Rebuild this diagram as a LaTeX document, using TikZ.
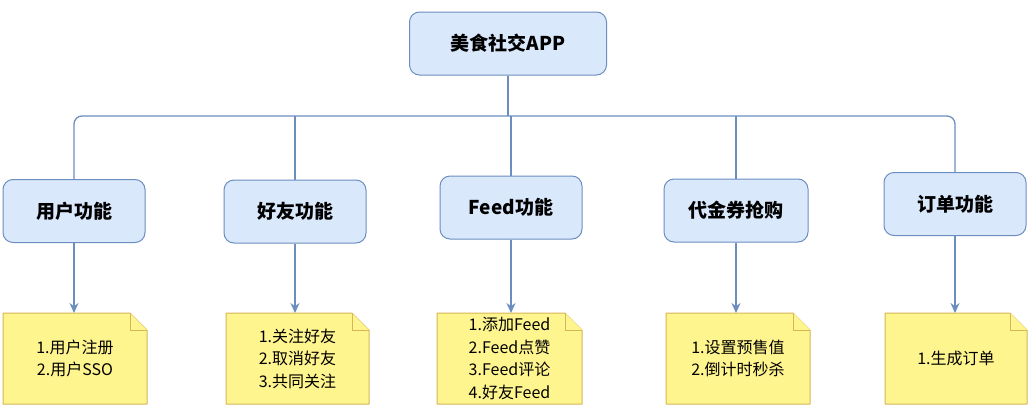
\documentclass[tikz,border=0pt]{standalone}
\usepackage{fontspec}
\setmainfont{Noto Sans CJK SC}
\usetikzlibrary{arrows.meta,backgrounds}
\definecolor{BoxBlue}{HTML}{DAE8FC}
\definecolor{BoxEdge}{HTML}{6C8EBF}
\definecolor{NoteYellow}{HTML}{FFF58F}
\definecolor{NoteEdge}{HTML}{D6B656}

\tikzset{
  func/.style={draw=BoxEdge, fill=BoxBlue, line width=1pt, rounded corners=10pt,
    minimum width=142pt, minimum height=63pt, inner sep=0pt,
    font=\bfseries\fontsize{19}{23}\selectfont},
  note/.style={minimum width=144pt, minimum height=91pt, inner sep=2pt, outer sep=0pt,
    align=center, font=\fontsize{16}{22.5}\selectfont},
  notebg/.style={draw=NoteEdge, fill=NoteYellow, line width=1pt, line join=round},
  link/.style={draw=BoxEdge, line width=1.3pt},
  arr/.style={link, -{Stealth[length=10pt,width=9pt]}}
}
\newcommand\notefold[1]{%
  \draw[notebg] (#1.south west) to (#1.north west) to ([xshift=-17pt]#1.north east)
    to ([yshift=-17pt]#1.north east) to (#1.south east) to cycle;
  \draw[notebg] ([xshift=-17pt]#1.north east) to ([xshift=-17pt,yshift=-17pt]#1.north east)
    to ([yshift=-17pt]#1.north east);}

\begin{document}
\begin{tikzpicture}[x=1pt,y=1pt]
    \useasboundingbox (0,0) rectangle (1032,-418);
    %%Root
    \node[func, minimum width=197pt] (root) at (508,-43.5) {美食社交APP};
    \coordinate (bus) at (508,-116);
    %%Functions
    \node[func] (user) at (74,-211) {用户功能};
    \node[func] (friend) at (295,-211.5) {好友功能};
    \node[func] (feed) at (511,-207.5) {Feed功能};
    \node[func, minimum width=144pt] (coupon) at (736,-210.5) {代金券抢购};
    \node[func] (order) at (955,-204) {订单功能};
    %%Notes
    \node[note] (usernote) at (75,-358.5) {1.用户注册\\2.用户SSO};
    \node[note, minimum width=143pt] (friendnote) at (297.5,-358.5) {1.关注好友\\2.取消好友\\3.共同关注};
    \node[note, minimum width=145pt] (feednote) at (509.5,-358.5) {1.添加Feed\\2.Feed点赞\\3.Feed评论\\4.好友Feed};
    \node[note] (couponnote) at (738,-358.5) {1.设置预售值\\2.倒计时秒杀};
    \node[note, minimum width=142pt] (ordernote) at (956,-358.5) {1.生成订单};
    \begin{scope}[on background layer]
      \foreach \n in {usernote,friendnote,feednote,couponnote,ordernote}
        {\notefold{\n}}
    \end{scope}
    %%Tree
    \draw[link] (root) to (bus);
    \draw[link, rounded corners=8pt] (user.north) |- (bus) -| (order.north);
    \draw[link] (friend.north) to (friend.north |- bus);
    \draw[link] (feed.north) to (feed.north |- bus);
    \draw[link] (coupon.north) to (coupon.north |- bus);
    %%Arrows
    \draw[arr] (user.south) to (user.south |- usernote.north);
    \draw[arr] (friend.south) to (friend.south |- friendnote.north);
    \draw[arr] (feed.south) to (feed.south |- feednote.north);
    \draw[arr] (coupon.south) to (coupon.south |- couponnote.north);
    \draw[arr] (order.south) to (order.south |- ordernote.north);
\end{tikzpicture}
\end{document}
